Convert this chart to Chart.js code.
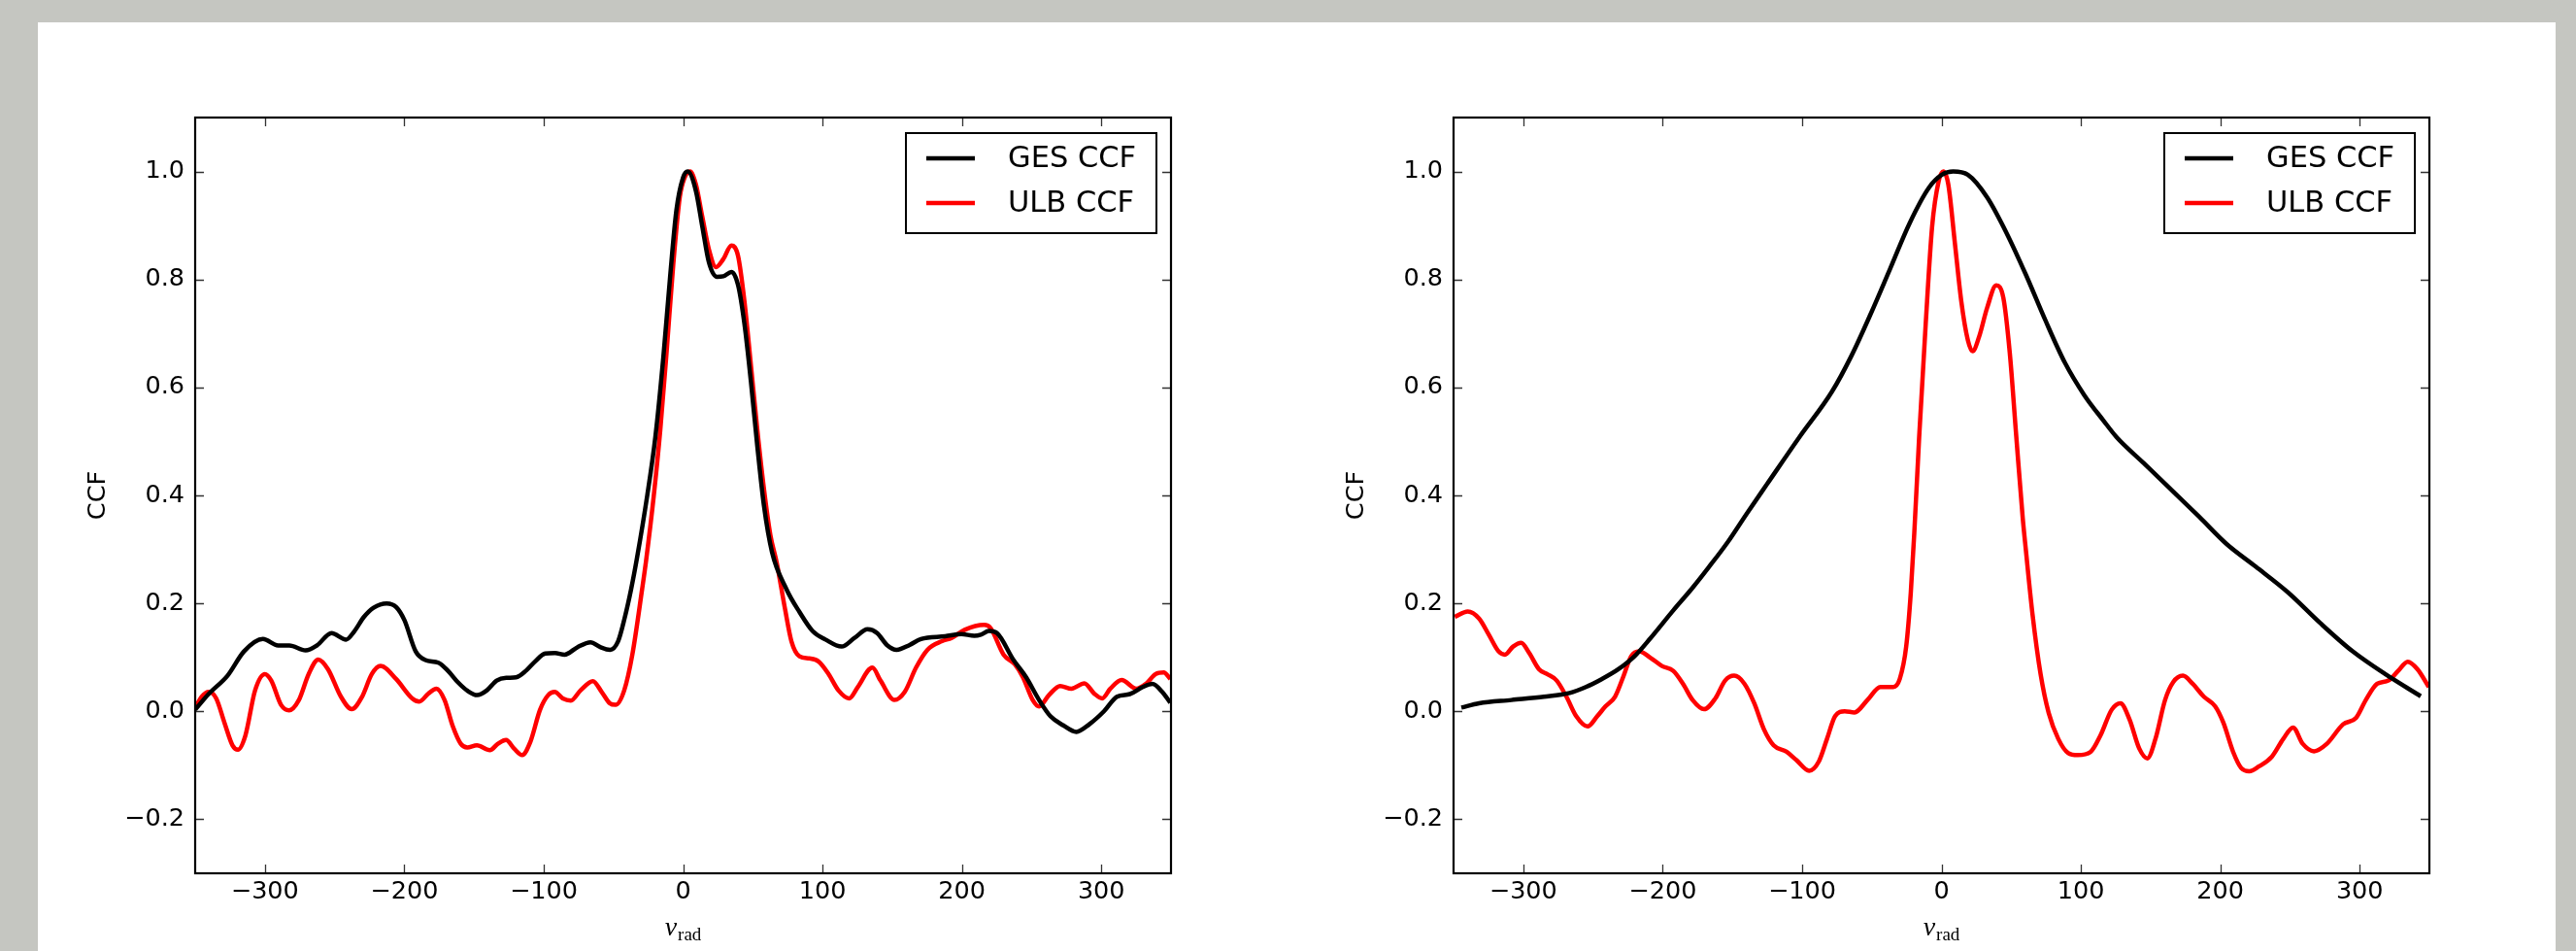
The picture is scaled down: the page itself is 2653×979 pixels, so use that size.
<!DOCTYPE html>
<html>
<head>
<meta charset="utf-8">
<title>GES vs ULB CCF</title>
<script src="https://cdn.jsdelivr.net/npm/chart.js@4.4.1/dist/chart.umd.min.js"></script>
<style>
    html, body { margin: 0; padding: 0; }
    body { width: 2653px; height: 979px; background: rgb(197, 198, 193); position: relative; overflow: hidden; }
    #sheet { position: absolute; left: 39px; top: 23px; width: 2593px; height: 956px; background: #fff; }
    canvas { position: absolute; top: 0; }
    #ccfLeft { left: 0; }
    #ccfRight { left: 1290px; }
</style>
</head>
<body>
<div id="sheet">
    <canvas id="ccfLeft" width="1290" height="956"></canvas>
    <canvas id="ccfRight" width="1303" height="956"></canvas>
</div>
<script>
// --- data ---
const xTicks = [-300, -200, -100, 0, 100, 200, 300];
const yTicks = [-0.2, 0.0, 0.2, 0.4, 0.6, 0.8, 1.0];
const seriesLabels = ['GES CCF', 'ULB CCF'];

// left panel, GES
const gesLeftV = [-350, -340.4, -326.8, -315, -301.4, -290.5, -282.4, -270.8, -262.7, -252.2, -241.7, -235.9, -228.9, -222, -212.7, -205.7, -199.9, -191.8, -184.8, -175.5, -168.6, -161.6, -154.6, -147.7, -140.7, -133.7, -126.8, -119.8, -112.8, -105.9, -98.9, -91.9, -85, -75.7, -66.4, -59.4, -52.4, -46.6, -42, -37.3, -33, -25.7, -19.9, -14.1, -9.4, -4.8, -0.1, 3.3, 9.2, 13.8, 18.5, 24.3, 28.9, 34.7, 39.4, 44, 48.7, 53.3, 58, 63.8, 74.2, 83.5, 92.8, 102.1, 113.7, 123, 132.3, 139.2, 146.2, 153.2, 162.5, 170.6, 188, 199.6, 208.9, 213.6, 219.4, 225.2, 236.8, 246.1, 255.4, 263.5, 272.8, 282.1, 291.4, 301.9, 311.2, 320.5, 329.7, 336.7, 343.7, 349.5];
const gesLeftCCF = [0.003, 0.032, 0.066, 0.111, 0.134, 0.122, 0.122, 0.113, 0.122, 0.145, 0.133, 0.148, 0.175, 0.192, 0.2, 0.193, 0.169, 0.111, 0.095, 0.09, 0.075, 0.054, 0.038, 0.03, 0.039, 0.057, 0.062, 0.063, 0.075, 0.093, 0.107, 0.108, 0.105, 0.119, 0.128, 0.119, 0.114, 0.13, 0.172, 0.226, 0.285, 0.4, 0.508, 0.658, 0.802, 0.928, 0.988, 1.0, 0.964, 0.898, 0.832, 0.805, 0.806, 0.814, 0.79, 0.718, 0.61, 0.49, 0.381, 0.295, 0.226, 0.184, 0.149, 0.133, 0.12, 0.136, 0.152, 0.145, 0.123, 0.114, 0.123, 0.134, 0.139, 0.143, 0.14, 0.142, 0.149, 0.145, 0.096, 0.063, 0.021, -0.009, -0.026, -0.038, -0.024, 0.0, 0.027, 0.032, 0.045, 0.051, 0.036, 0.016];

// left panel, ULB
const ulbLeftV = [-350, -345.3, -340.2, -334.9, -329, -323.2, -319.3, -314, -307, -300, -295.4, -288.4, -282.6, -275.6, -268.6, -261.7, -254.7, -245.4, -237.7, -230.3, -223.3, -217, -205.9, -194.3, -189.2, -182.7, -176.9, -171.1, -165.3, -159.5, -154.8, -147.9, -138.6, -132.8, -127, -121.2, -115.4, -109.6, -102.6, -96.8, -92.1, -86.3, -80.5, -73.5, -64.7, -58.4, -52.6, -48.4, -42.2, -36.4, -29.4, -26.5, -21, -16.4, -11.7, -7.1, -2.4, 1, 5, 9.2, 13.8, 18.5, 23.6, 28.9, 34.7, 39.4, 44, 48.7, 53.3, 58, 62.6, 67.2, 73.1, 77.7, 83.5, 90.5, 97.4, 104.4, 111.4, 119.1, 125.3, 135.8, 141.6, 151.6, 159, 167.1, 175.3, 185.7, 192.7, 202, 216, 220.6, 229.9, 238, 243.8, 250.8, 255.4, 262.4, 270.5, 278.6, 287.9, 294.9, 300.7, 306.5, 314.6, 325.1, 332, 339, 344.8, 349.5];
const ulbLeftCCF = [0.006, 0.027, 0.036, 0.024, -0.021, -0.063, -0.071, -0.045, 0.039, 0.069, 0.057, 0.012, 0.002, 0.021, 0.069, 0.096, 0.078, 0.027, 0.004, 0.027, 0.069, 0.084, 0.06, 0.024, 0.018, 0.033, 0.042, 0.021, -0.027, -0.06, -0.067, -0.063, -0.072, -0.06, -0.053, -0.069, -0.081, -0.057, 0.003, 0.03, 0.036, 0.024, 0.02, 0.039, 0.056, 0.036, 0.015, 0.012, 0.039, 0.105, 0.226, 0.28, 0.4, 0.52, 0.67, 0.826, 0.952, 0.988, 1.0, 0.976, 0.916, 0.856, 0.823, 0.838, 0.863, 0.844, 0.76, 0.64, 0.52, 0.412, 0.327, 0.275, 0.19, 0.13, 0.102, 0.098, 0.092, 0.069, 0.039, 0.024, 0.045, 0.081, 0.057, 0.021, 0.036, 0.081, 0.114, 0.13, 0.136, 0.151, 0.16, 0.154, 0.105, 0.087, 0.063, 0.021, 0.009, 0.03, 0.047, 0.042, 0.052, 0.033, 0.024, 0.042, 0.058, 0.042, 0.051, 0.069, 0.072, 0.06];

// right panel, GES
const gesRightV = [-344.4, -331.7, -308.5, -285.2, -266.7, -255.1, -243.5, -231.8, -220.2, -208.6, -192.4, -178.5, -166.9, -152.9, -140, -125.1, -101.9, -78.6, -64.7, -50.8, -36.8, -22.9, -9, 0.3, 8.4, 18.9, 32.8, 46.7, 60.7, 74.6, 88.5, 102.4, 116.4, 125.6, 145, 165, 185, 204.5, 225.4, 248.7, 271.9, 295, 318.3, 343.8];
const gesRightCCF = [0.007, 0.015, 0.021, 0.027, 0.034, 0.045, 0.06, 0.078, 0.102, 0.136, 0.187, 0.229, 0.267, 0.315, 0.365, 0.421, 0.508, 0.592, 0.658, 0.736, 0.82, 0.904, 0.97, 0.994, 1.0, 0.994, 0.952, 0.886, 0.808, 0.724, 0.646, 0.586, 0.538, 0.508, 0.46, 0.41, 0.36, 0.31, 0.268, 0.22, 0.163, 0.111, 0.069, 0.028];

// right panel, ULB
const ulbRightV = [-349.1, -339.8, -331.7, -324.7, -317.7, -313.1, -307.3, -301.5, -295.7, -288.7, -282.9, -276, -269, -262, -253.9, -246.9, -241.1, -234.2, -228.4, -222.6, -216.8, -208.6, -200.5, -192.4, -185.4, -178.5, -170.3, -162.2, -155.2, -148.7, -141.3, -134.3, -127.4, -120.4, -111.1, -104.2, -94.9, -88, -82.1, -76.3, -69.4, -62.4, -53.1, -43.8, -34.5, -29.9, -25.3, -22, -19.5, -16, -11.3, -6.7, -2, 1.4, 4.9, 9.6, 14.2, 18.9, 22.3, 27, 32.8, 39.3, 44.4, 49, 53.7, 58.3, 60.5, 65.3, 71.1, 76.9, 83.8, 90.8, 97.8, 107, 114, 122.1, 128.4, 134.9, 141.9, 147.7, 153.5, 160.4, 166.2, 173.2, 180.2, 188.3, 196.4, 202.2, 209.2, 215, 220.8, 227.8, 237, 245.2, 252.2, 259.1, 267.2, 276.5, 288.1, 297.4, 304.4, 312.5, 320.6, 327.6, 334.5, 341.5, 349.6];
const ulbRightCCF = [0.175, 0.185, 0.172, 0.142, 0.111, 0.105, 0.12, 0.127, 0.108, 0.078, 0.069, 0.057, 0.027, -0.009, -0.028, -0.009, 0.009, 0.027, 0.063, 0.102, 0.111, 0.099, 0.084, 0.075, 0.051, 0.021, 0.004, 0.024, 0.057, 0.066, 0.051, 0.015, -0.033, -0.063, -0.075, -0.09, -0.11, -0.093, -0.051, -0.009, 0.0, -0.002, 0.021, 0.045, 0.045, 0.06, 0.12, 0.22, 0.33, 0.508, 0.718, 0.898, 0.982, 1.0, 0.976, 0.868, 0.76, 0.688, 0.667, 0.694, 0.748, 0.789, 0.766, 0.664, 0.508, 0.358, 0.3, 0.18, 0.069, -0.003, -0.051, -0.077, -0.081, -0.075, -0.045, 0.003, 0.015, -0.015, -0.069, -0.087, -0.051, 0.021, 0.054, 0.066, 0.051, 0.027, 0.009, -0.021, -0.075, -0.105, -0.111, -0.102, -0.084, -0.051, -0.03, -0.06, -0.074, -0.06, -0.024, -0.012, 0.021, 0.051, 0.057, 0.075, 0.092, 0.078, 0.045];

// --- look ---
const TICK_FONT = { family: '"DejaVu Sans", sans-serif', size: 25.5 };
const LEGEND_FONT = '30.5px "DejaVu Sans", sans-serif';
const PLOT_TOP = 98, PLOT_H = 778, PLOT_W = 1005;

const toPoints = (xs, ys) => xs.map((x, i) => ({ x: x, y: ys[i] }));
const fmtMinus = s => s.replace('-', '\u2212');

// matplotlib-ish frame, inward ticks, legend, axis labels
const mplPlugin = {
    id: 'mplPlugin',
    afterDraw(chart) {
        const ctx = chart.ctx;
        const a = chart.chartArea;
        const xs = chart.scales.x, ys = chart.scales.y;
        ctx.save();

        // ticks on all four sides, pointing in
        ctx.strokeStyle = '#333';
        ctx.lineWidth = 1.3;
        ctx.beginPath();
        xs.ticks.forEach(t => {
            const px = Math.round(xs.getPixelForValue(t.value)) + 0.5;
            ctx.moveTo(px, a.bottom); ctx.lineTo(px, a.bottom - 9);
            ctx.moveTo(px, a.top); ctx.lineTo(px, a.top + 9);
        });
        ys.ticks.forEach(t => {
            const py = Math.round(ys.getPixelForValue(t.value)) + 0.5;
            ctx.moveTo(a.left, py); ctx.lineTo(a.left + 9, py);
            ctx.moveTo(a.right, py); ctx.lineTo(a.right - 9, py);
        });
        ctx.stroke();

        // frame
        ctx.strokeStyle = '#000';
        ctx.lineWidth = 2.2;
        ctx.strokeRect(a.left, a.top, a.right - a.left, a.bottom - a.top);

        // legend box, upper right
        const bw = 258, bh = 103;
        const bx = a.right - 15 - bw, by = a.top + 16;
        ctx.fillStyle = '#fff';
        ctx.fillRect(bx, by, bw, bh);
        ctx.lineWidth = 2;
        ctx.strokeRect(bx, by, bw, bh);
        ctx.font = LEGEND_FONT;
        ctx.textBaseline = 'middle';
        ctx.textAlign = 'left';
        chart.data.datasets.forEach((ds, i) => {
            const ly = by + 26 + i * 46;
            ctx.strokeStyle = ds.borderColor;
            ctx.lineWidth = ds.borderWidth;
            ctx.beginPath();
            ctx.moveTo(bx + 21, ly); ctx.lineTo(bx + 71, ly);
            ctx.stroke();
            ctx.fillStyle = '#000';
            ctx.fillText(ds.label, bx + 105, ly + 1);
        });

        // y label
        ctx.save();
        ctx.translate(a.left - 100, (a.top + a.bottom) / 2);
        ctx.rotate(-Math.PI / 2);
        ctx.font = '25.5px "DejaVu Sans", sans-serif';
        ctx.textAlign = 'center';
        ctx.textBaseline = 'middle';
        ctx.fillText('CCF', 0, 0);
        ctx.restore();

        // x label: v_rad
        const cx = (a.left + a.right) / 2;
        const base = a.bottom + 64;
        ctx.textBaseline = 'alphabetic';
        ctx.textAlign = 'left';
        ctx.font = 'italic 28px "Liberation Serif", serif';
        const vW = ctx.measureText('v').width;
        ctx.font = '19px "Liberation Serif", serif';
        const rW = ctx.measureText('rad').width;
        const x0 = cx - (vW + rW + 1) / 2;
        ctx.font = 'italic 28px "Liberation Serif", serif';
        ctx.fillText('v', x0, base);
        ctx.font = '19px "Liberation Serif", serif';
        ctx.fillText('rad', x0 + vW + 1, base + 5);

        ctx.restore();
    }
};

function makePanel(canvasId, leftW, gesV, gesY, ulbV, ulbY) {
    const canvas = document.getElementById(canvasId);
    const padRight = canvas.width - leftW - PLOT_W;
    return new Chart(canvas, {
        type: 'line',
        data: {
            datasets: [
                {
                    label: seriesLabels[0],
                    data: toPoints(gesV, gesY),
                    borderColor: '#000000',
                    borderWidth: 4.5,
                    pointRadius: 0,
                    cubicInterpolationMode: 'monotone',
                    clip: 0
                },
                {
                    label: seriesLabels[1],
                    data: toPoints(ulbV, ulbY),
                    borderColor: '#ff0000',
                    borderWidth: 4.5,
                    pointRadius: 0,
                    cubicInterpolationMode: 'monotone',
                    clip: 0
                }
            ]
        },
        options: {
            responsive: false,
            animation: false,
            devicePixelRatio: 1,
            layout: { padding: { top: PLOT_TOP, right: padRight, left: 0, bottom: 0 } },
            plugins: { legend: { display: false }, tooltip: { enabled: false } },
            scales: {
                x: {
                    type: 'linear',
                    min: -350,
                    max: 350,
                    grid: { display: false, drawTicks: false },
                    border: { display: false },
                    afterBuildTicks: s => { s.ticks = xTicks.map(v => ({ value: v })); },
                    afterFit: s => { s.height = canvas.height - PLOT_TOP - PLOT_H; },
                    ticks: {
                        color: '#000',
                        font: TICK_FONT,
                        padding: 4,
                        autoSkip: false,
                        maxRotation: 0,
                        callback: v => fmtMinus(String(v))
                    }
                },
                y: {
                    type: 'linear',
                    min: -0.3,
                    max: 1.1,
                    grid: { display: false, drawTicks: false },
                    border: { display: false },
                    afterBuildTicks: s => { s.ticks = yTicks.map(v => ({ value: v })); },
                    afterFit: s => { s.width = leftW; },
                    ticks: {
                        color: '#000',
                        font: TICK_FONT,
                        padding: 11,
                        callback: v => fmtMinus(Number(v).toFixed(1))
                    }
                }
            }
        },
        plugins: [mplPlugin]
    });
}

makePanel('ccfLeft', 162, gesLeftV, gesLeftCCF, ulbLeftV, ulbLeftCCF);
makePanel('ccfRight', 168, gesRightV, gesRightCCF, ulbRightV, ulbRightCCF);
</script>
</body>
</html>
